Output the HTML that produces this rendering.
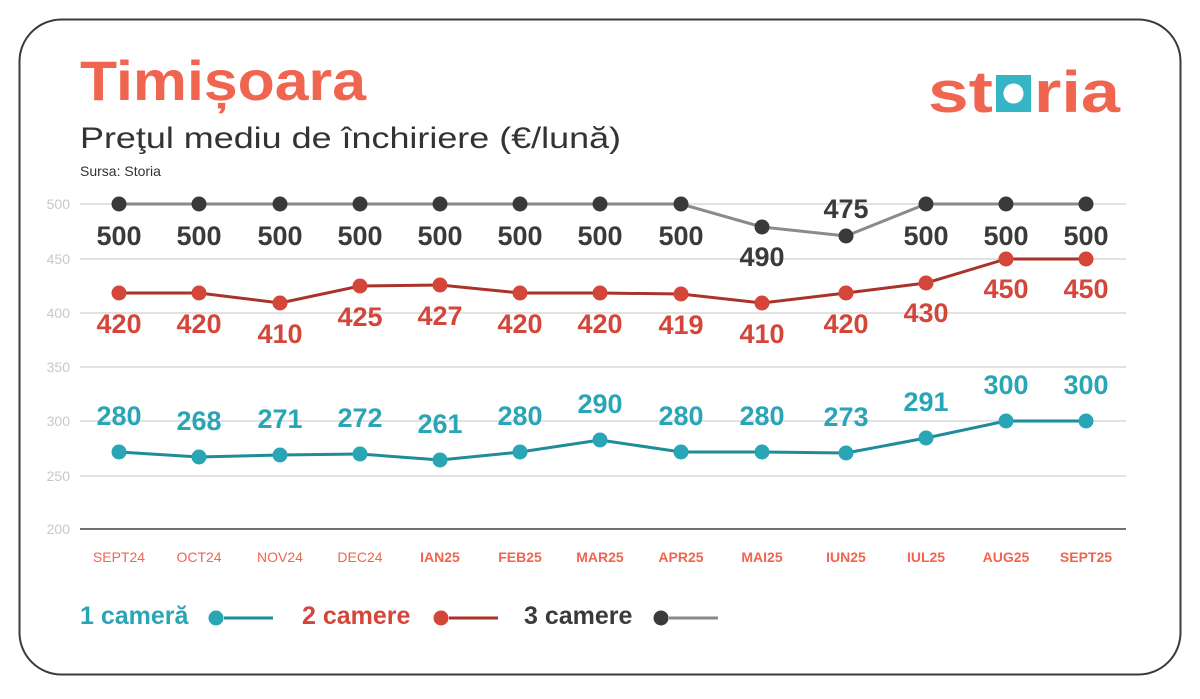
<!DOCTYPE html>
<html><head><meta charset="utf-8"><style>
body{margin:0;background:#fff;}
svg text{font-family:"Liberation Sans",sans-serif;}
</style></head><body>
<svg width="1200" height="694" viewBox="0 0 1200 694" xmlns="http://www.w3.org/2000/svg">
<rect x="19.5" y="19.5" width="1161" height="655" rx="42" fill="#fff" stroke="#3a3a3a" stroke-width="2"/>
<text x="80" y="100" font-size="56" font-weight="bold" fill="#f0654f" textLength="286" lengthAdjust="spacingAndGlyphs">Timișoara</text>
<text x="80" y="148" font-size="30" fill="#333" textLength="541" lengthAdjust="spacingAndGlyphs">Preţul mediu de închiriere (€/lună)</text>
<text x="80" y="176" font-size="14" fill="#333">Sursa: Storia</text>
<!-- logo -->
<text x="928" y="112" font-size="58" font-weight="bold" fill="#f0654f" textLength="65" lengthAdjust="spacingAndGlyphs">st</text>
<rect x="996" y="75" width="35" height="37" fill="#36b5c6"/>
<circle cx="1013.5" cy="93.5" r="10" fill="#fff"/>
<text x="1034" y="112" font-size="58" font-weight="bold" fill="#f0654f" textLength="86" lengthAdjust="spacingAndGlyphs">ria</text>
<!-- grid -->
<g stroke="#d8d8d8" stroke-width="1.5">
<line x1="80" y1="204" x2="1126" y2="204"/><line x1="80" y1="259" x2="1126" y2="259"/>
<line x1="80" y1="313" x2="1126" y2="313"/><line x1="80" y1="367" x2="1126" y2="367"/>
<line x1="80" y1="421" x2="1126" y2="421"/><line x1="80" y1="476" x2="1126" y2="476"/>
</g>
<line x1="80" y1="529" x2="1126" y2="529" stroke="#444" stroke-width="1.5"/>
<g font-size="14" fill="#c8c8c8" text-anchor="end">
<text x="70" y="209">500</text><text x="70" y="264">450</text><text x="70" y="318">400</text>
<text x="70" y="372">350</text><text x="70" y="426">300</text><text x="70" y="481">250</text><text x="70" y="534">200</text>
</g>
<g font-size="14" fill="#f0654f" text-anchor="middle">
<text x="119" y="562">SEPT24</text><text x="199" y="562">OCT24</text><text x="280" y="562">NOV24</text><text x="360" y="562">DEC24</text>
<g font-weight="bold"><text x="440" y="562">IAN25</text><text x="520" y="562">FEB25</text><text x="600" y="562">MAR25</text><text x="681" y="562">APR25</text><text x="762" y="562">MAI25</text><text x="846" y="562">IUN25</text><text x="926" y="562">IUL25</text><text x="1006" y="562">AUG25</text><text x="1086" y="562">SEPT25</text></g>
</g>
<!-- gray -->
<polyline fill="none" stroke="#8a8a8a" stroke-width="3" points="119,204 199,204 280,204 360,204 440,204 520,204 600,204 681,204 762,227 846,236 926,204 1006,204 1086,204"/>
<g fill="#3a3a3a">
<circle cx="119" cy="204" r="7.5"/><circle cx="199" cy="204" r="7.5"/><circle cx="280" cy="204" r="7.5"/><circle cx="360" cy="204" r="7.5"/><circle cx="440" cy="204" r="7.5"/><circle cx="520" cy="204" r="7.5"/><circle cx="600" cy="204" r="7.5"/><circle cx="681" cy="204" r="7.5"/><circle cx="762" cy="227" r="7.5"/><circle cx="846" cy="236" r="7.5"/><circle cx="926" cy="204" r="7.5"/><circle cx="1006" cy="204" r="7.5"/><circle cx="1086" cy="204" r="7.5"/>
</g>
<g font-size="27" font-weight="bold" fill="#3a3a3a" text-anchor="middle">
<text x="119" y="245">500</text><text x="199" y="245">500</text><text x="280" y="245">500</text><text x="360" y="245">500</text><text x="440" y="245">500</text><text x="520" y="245">500</text><text x="600" y="245">500</text><text x="681" y="245">500</text><text x="762" y="266">490</text><text x="846" y="218">475</text><text x="926" y="245">500</text><text x="1006" y="245">500</text><text x="1086" y="245">500</text>
</g>
<!-- red -->
<polyline fill="none" stroke="#a9322a" stroke-width="3" points="119,293 199,293 280,303 360,286 440,285 520,293 600,293 681,294 762,303 846,293 926,283 1006,259 1086,259"/>
<g fill="#d4453a">
<circle cx="119" cy="293" r="7.5"/><circle cx="199" cy="293" r="7.5"/><circle cx="280" cy="303" r="7.5"/><circle cx="360" cy="286" r="7.5"/><circle cx="440" cy="285" r="7.5"/><circle cx="520" cy="293" r="7.5"/><circle cx="600" cy="293" r="7.5"/><circle cx="681" cy="294" r="7.5"/><circle cx="762" cy="303" r="7.5"/><circle cx="846" cy="293" r="7.5"/><circle cx="926" cy="283" r="7.5"/><circle cx="1006" cy="259" r="7.5"/><circle cx="1086" cy="259" r="7.5"/>
</g>
<g font-size="27" font-weight="bold" fill="#d4453a" text-anchor="middle">
<text x="119" y="333">420</text><text x="199" y="333">420</text><text x="280" y="343">410</text><text x="360" y="326">425</text><text x="440" y="325">427</text><text x="520" y="333">420</text><text x="600" y="333">420</text><text x="681" y="334">419</text><text x="762" y="343">410</text><text x="846" y="333">420</text><text x="926" y="322">430</text><text x="1006" y="298">450</text><text x="1086" y="298">450</text>
</g>
<!-- teal -->
<polyline fill="none" stroke="#1f8d98" stroke-width="3" points="119,452 199,457 280,455 360,454 440,460 520,452 600,440 681,452 762,452 846,453 926,438 1006,421 1086,421"/>
<g fill="#2aa5b5">
<circle cx="119" cy="452" r="7.5"/><circle cx="199" cy="457" r="7.5"/><circle cx="280" cy="455" r="7.5"/><circle cx="360" cy="454" r="7.5"/><circle cx="440" cy="460" r="7.5"/><circle cx="520" cy="452" r="7.5"/><circle cx="600" cy="440" r="7.5"/><circle cx="681" cy="452" r="7.5"/><circle cx="762" cy="452" r="7.5"/><circle cx="846" cy="453" r="7.5"/><circle cx="926" cy="438" r="7.5"/><circle cx="1006" cy="421" r="7.5"/><circle cx="1086" cy="421" r="7.5"/>
</g>
<g font-size="27" font-weight="bold" fill="#2aa5b5" text-anchor="middle">
<text x="119" y="425">280</text><text x="199" y="430">268</text><text x="280" y="428">271</text><text x="360" y="427">272</text><text x="440" y="433">261</text><text x="520" y="425">280</text><text x="600" y="413">290</text><text x="681" y="425">280</text><text x="762" y="425">280</text><text x="846" y="426">273</text><text x="926" y="411">291</text><text x="1006" y="394">300</text><text x="1086" y="394">300</text>
</g>
<!-- legend -->
<text x="80" y="624" font-size="25" font-weight="bold" fill="#2aa5b5">1 cameră</text>
<circle cx="216" cy="618" r="7.5" fill="#2aa5b5"/><line x1="224" y1="618" x2="273" y2="618" stroke="#1f8d98" stroke-width="3"/>
<text x="302" y="624" font-size="25" font-weight="bold" fill="#d4453a">2 camere</text>
<circle cx="441" cy="618" r="7.5" fill="#d4453a"/><line x1="449" y1="618" x2="498" y2="618" stroke="#a9322a" stroke-width="3"/>
<text x="524" y="624" font-size="25" font-weight="bold" fill="#3a3a3a">3 camere</text>
<circle cx="661" cy="618" r="7.5" fill="#3a3a3a"/><line x1="669" y1="618" x2="718" y2="618" stroke="#8a8a8a" stroke-width="3"/>
</svg>
</body></html>
